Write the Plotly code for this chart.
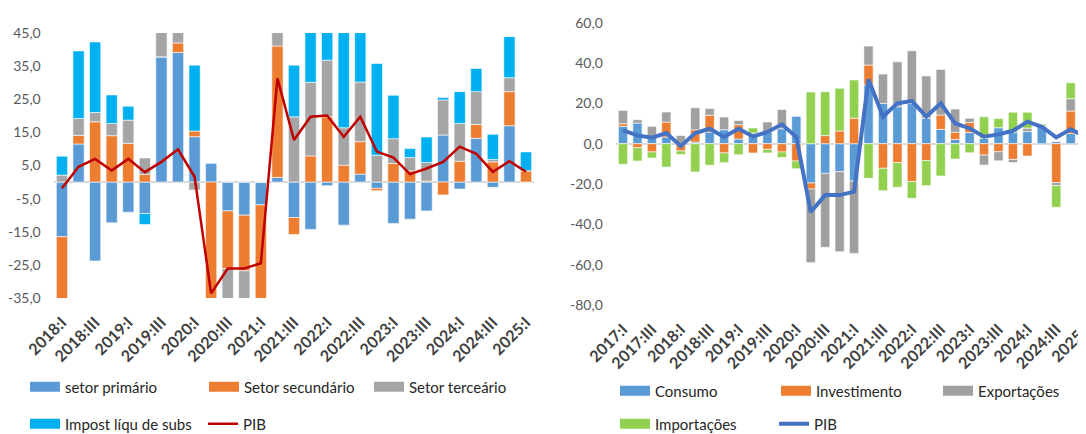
import plotly.graph_objects as go

# ---------------- Left panel data (setores) ----------------
quarters_left = ["2018:I","2018:II","2018:III","2018:IV",
                 "2019:I","2019:II","2019:III","2019:IV",
                 "2020:I","2020:II","2020:III","2020:IV",
                 "2021:I","2021:II","2021:III","2021:IV",
                 "2022:I","2022:II","2022:III","2022:IV",
                 "2023:I","2023:II","2023:III","2023:IV",
                 "2024:I","2024:II","2024:III","2024:IV",
                 "2025:I"]
setor_primario = [-16.5, 11.5, -23.8, -12.3, -9.1, -9.5, 37.8, 39.1, 13.7, 5.8, -8.7, -10.0, -6.9,
                  1.4, -10.7, -14.3, -1.1, -13.0, 2.4, -1.9, -12.5, -11.2, -8.7, 14.2, -2.1, 13.2,
                  -1.6, 17.0, 0.0]
setor_secundario = [-19.0, 2.6, 18.2, 14.0, 11.7, 2.3, 0.0, 2.9, 1.7, -38.0, -17.4, -16.8, -30.0,
                    39.7, -5.1, 7.9, 19.7, 5.1, 9.8, -0.7, 5.6, 3.4, 0.3, -3.9, 6.3, 4.2,
                    6.1, 10.3, 3.4]
setor_terceario = [2.1, 5.1, 2.8, 3.7, 7.0, 5.0, 8.0, 5.0, -2.4, 0.0, -12.0, -12.0, 0.0,
                   5.0, 19.7, 22.2, 17.1, 11.3, 18.0, 8.1, 7.5, 4.0, 5.6, 10.6, 11.4, 9.9,
                   0.7, 4.2, 0.0]
impostos = [5.7, 20.4, 21.3, 8.6, 4.2, -3.3, 0.0, 0.0, 19.9, 0.0, 0.0, 0.0, 0.0,
            0.0, 15.6, 16.0, 10.0, 30.0, 16.0, 27.7, 13.1, 2.7, 7.7, 0.7, 9.6, 7.0,
            7.6, 12.4, 5.7]
pib_left = [-1.9, 4.6, 7.0, 3.5, 7.0, 3.0, 6.1, 9.9, 1.6, -33.6, -26.1, -26.1, -24.5,
            31.3, 12.7, 19.7, 20.1, 13.7, 19.7, 9.2, 7.4, 2.4, 4.1, 6.1, 10.7, 8.5,
            3.1, 6.3, 3.1]
ticks_left = quarters_left[::2]
yticks_left = [45, 35, 25, 15, 5, -5, -15, -25, -35]

# ---------------- Right panel data (demanda) ----------------
quarters_right = ["2017:I","2017:II","2017:III","2017:IV"] + quarters_left
consumo = [8.6, 10.2, 3.0, 3.3, 0.0, 0.8, 5.8, 6.9, 2.3, 5.3, 5.8, 7.4, 13.7,
           -19.5, -14.7, -13.9, -18.5, 29.1, 20.0, 18.3, 20.0, 12.6, 7.1, 2.1,
           5.5, 2.6, 7.9, 5.5, 6.0, 8.8, 1.0, 5.0, 0.5]
investimento = [1.3, -2.0, -4.1, 7.4, -3.6, 6.1, 8.3, -4.6, 7.1, -4.6, -2.8, -4.1, -8.6,
                -3.0, 4.0, 6.3, 12.6, 9.9, -12.2, -9.4, -18.8, -8.4, 7.1, 3.5,
                5.0, -5.6, -4.0, -7.8, -6.1, 0.0, -19.3, 11.2, 7.1]
exportacoes = [6.6, 1.7, 5.6, 5.0, 4.1, 10.9, 3.3, 6.3, 2.1, 0.0, 5.0, 9.6, 0.0,
               -36.5, -36.7, -39.7, -35.9, 9.4, 14.5, 22.3, 26.1, 21.0, 22.6, 11.6,
               2.1, -5.0, -4.5, -1.5, 1.7, 0.0, -1.5, 6.1, -6.0]
importacoes = [-10.2, -6.6, -3.0, -11.6, -1.8, -14.0, -10.7, -4.8, -5.5, 2.5, -1.8, -2.8, -3.8,
               25.6, 21.8, 21.2, 19.0, -17.2, -11.1, -12.2, -8.3, -12.4, -16.0, -7.6,
               -4.5, 10.7, 4.6, 10.1, 7.9, 0.8, -10.7, 7.9, -7.6]
pib_right = [6.6, 4.1, 3.0, 5.3, -1.2, 5.3, 7.4, 3.3, 7.4, 3.6, 5.8, 9.6, 3.3,
             -33.9, -25.5, -25.5, -23.8, 31.9, 13.4, 20.0, 21.2, 13.4, 20.0, 10.1,
             7.6, 3.5, 4.6, 6.4, 10.9, 8.4, 3.1, 7.1, 3.5]
ticks_right = quarters_right[::2]
yticks_right = [60, 40, 20, 0, -20, -40, -60, -80]


def fmt_pt(v):
    # Portuguese decimal comma, plain hyphen for the minus sign
    return f"{v:.1f}".replace(".", ",")


# The page body has an 8px default margin, so the figure is drawn 8px in from the window edge.
OFF = 8
WIN_W, WIN_H = 1086, 434
W, H = WIN_W - OFF, WIN_H - OFF
FONT = "Lato, Open Sans, sans-serif"
TICK_COLOR = "#595959"
XTICK_COLOR = "#404040"
TXT_COLOR = "#262626"


def px_x(p):
    """window pixel x -> paper fraction"""
    return (p - OFF) / W


def px_y(p):
    """window pixel y -> paper fraction"""
    return 1 - (p - OFF) / H


fig = go.Figure()

# (name, values, colour, legend id, legend x px, legend y px)
left_series = [
    ("setor primário", setor_primario, "#5B9BD5", "legend", 25, 387),
    ("Setor secundário", setor_secundario, "#ED7D31", "legend2", 204, 387),
    ("Setor terceário", setor_terceario, "#A5A5A5", "legend3", 369, 387),
    ("Impost líqu de subs", impostos, "#00B0F0", "legend4", 25, 424),
]
right_series = [
    ("Consumo", consumo, "#5B9BD5", "legend6", 615, 391),
    ("Investimento", investimento, "#ED7D31", "legend7", 776, 391),
    ("Exportações", exportacoes, "#A0A0A0", "legend8", 938, 391),
    ("Importações", importacoes, "#92D050", "legend9", 615, 424),
]
legend_pos = {}

for name, vals, col, lg, lx, ly in left_series:
    fig.add_trace(go.Bar(x=quarters_left, y=vals, name=name, marker_color=col,
                         marker_line=dict(color="white", width=0.6), width=0.68,
                         xaxis="x", yaxis="y", showlegend=False, legendgroup=name))
for name, vals, col, lg, lx, ly in left_series:
    fig.add_trace(go.Scatter(x=[None], y=[None], mode="lines", name=name,
                             line=dict(color=col, width=10), xaxis="x", yaxis="y",
                             legend=lg, legendgroup=name))
    legend_pos[lg] = (lx, ly)
fig.add_trace(go.Scatter(x=quarters_left, y=pib_left, name="PIB", mode="lines",
                         line=dict(color="#C00000", width=2.5), xaxis="x", yaxis="y",
                         legend="legend5", legendgroup="pib_left"))
legend_pos["legend5"] = (203, 424)

for name, vals, col, lg, lx, ly in right_series:
    fig.add_trace(go.Bar(x=quarters_right, y=vals, name=name, marker_color=col,
                         marker_line=dict(color="white", width=0.6), width=0.64,
                         xaxis="x2", yaxis="y2", showlegend=False, legendgroup=name))
for name, vals, col, lg, lx, ly in right_series:
    fig.add_trace(go.Scatter(x=[None], y=[None], mode="lines", name=name,
                             line=dict(color=col, width=10), xaxis="x2", yaxis="y2",
                             legend=lg, legendgroup=name))
    legend_pos[lg] = (lx, ly)
fig.add_trace(go.Scatter(x=quarters_right, y=pib_right, name="PIB", mode="lines",
                         line=dict(color="#4472C4", width=4), xaxis="x2", yaxis="y2",
                         legend="legend10", legendgroup="pib_right"))
legend_pos["legend10"] = (774, 424)

xcommon = dict(type="category", showgrid=False, showline=False, zeroline=False,
               ticks="", tickangle=-45, automargin=False, ticklabelstandoff=11,
               tickfont=dict(family=FONT, size=16, color=XTICK_COLOR, weight="bold"))
ycommon = dict(showgrid=False, showline=False, zeroline=True, zerolinecolor="#D9D9D9",
               zerolinewidth=1.5, ticks="", automargin=False, tickmode="array",
               ticklabelstandoff=12,
               tickfont=dict(family=FONT, size=14, color=TICK_COLOR))

legend_common = dict(orientation="h", bgcolor="rgba(0,0,0,0)", itemwidth=30,
                     font=dict(family=FONT, size=15, color=TXT_COLOR),
                     yanchor="middle", xanchor="left", itemclick=False,
                     itemdoubleclick=False)

legends = {lg: dict(legend_common, x=px_x(lx), y=px_y(ly))
           for lg, (lx, ly) in legend_pos.items()}

fig.update_layout(
    width=W, height=H,
    margin=dict(l=0, r=0, t=0, b=0, autoexpand=False),
    paper_bgcolor="white", plot_bgcolor="white",
    barmode="relative",
    font=dict(family=FONT, color=TXT_COLOR),
    xaxis=dict(xcommon, domain=[px_x(53.7), px_x(534.3)], range=[-0.5, 28.5],
               tickmode="array", tickvals=ticks_left, ticktext=ticks_left, anchor="y"),
    yaxis=dict(ycommon, domain=[px_y(298), px_y(33)], range=[-35, 45],
               tickvals=yticks_left, ticktext=[fmt_pt(v) for v in yticks_left], anchor="x"),
    xaxis2=dict(xcommon, domain=[px_x(615.8), 1.0], range=[-0.5, 32.06],
                tickmode="array", tickvals=ticks_right, ticktext=ticks_right, anchor="y2"),
    yaxis2=dict(ycommon, domain=[px_y(305), px_y(22.7)], range=[-80, 60],
                tickvals=yticks_right, ticktext=[fmt_pt(v) for v in yticks_right], anchor="x2"),
    **legends,
)

fig.write_html("out.html")
